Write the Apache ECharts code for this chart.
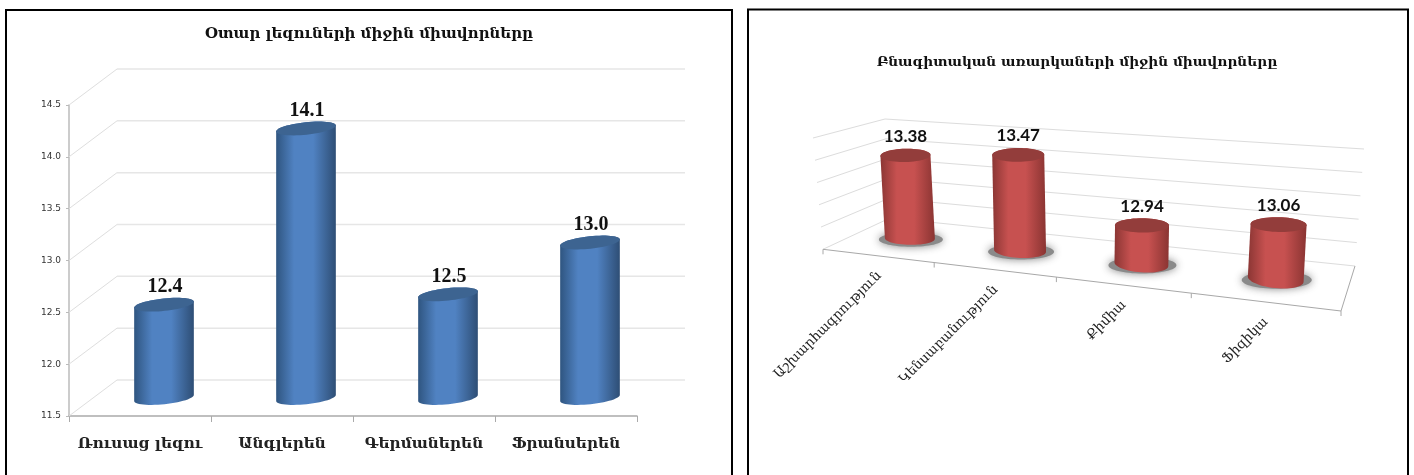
<!DOCTYPE html>
<html><head><meta charset="utf-8">
<style>html,body{margin:0;padding:0;background:#fff}#c{width:1414px;height:475px}</style>
<script src="https://cdn.jsdelivr.net/npm/echarts@6/dist/echarts.min.js"></script>
</head><body><div id="c"></div>
<script>
const titleLangs = 'Օտար լեզուների միջին միավորները';
const titleSci = 'Բնագիտական առարկաների միջին միավորները';
const langCats = ['Ռուսաց լեզու','Անգլերեն','Գերմաներեն','Ֆրանսերեն'];
const langVals = [12.4,14.1,12.5,13.0];
const langTicks = [11.5,12,12.5,13,13.5,14,14.5];
const sciCats = ['Աշխարհագրություն','Կենսաբանություն','Քիմիա','Ֆիզիկա'];
const sciVals = [13.38,13.47,12.94,13.06];
const sciTicks = [12.6,12.8,13,13.2,13.4,13.6];

const serif = '"DejaVu Serif","Liberation Serif",serif';
const G = echarts.graphic;
const hGrad = (e,m,e2)=>new G.LinearGradient(0,0,1,0,[{offset:0,color:e},{offset:.3,color:m},{offset:.62,color:m},{offset:1,color:e2}]);

// tilted ellipse outline; from/to in radians
function arc(cx,cy,rx,ry,tilt,a0,a1,n){
  const pts=[],c=Math.cos(tilt),s=Math.sin(tilt);
  for(let i=0;i<=n;i++){const t=a0+(a1-a0)*i/n,x=rx*Math.cos(t),y=ry*Math.sin(t);
    pts.push([cx+x*c-y*s,cy+x*s+y*c]);}
  return pts;
}
function cylinder(top,bot,rx,ryT,ryB,tT,tB,body,lid){
  const side=arc(bot[0],bot[1],rx,ryB,tB,Math.PI,0,28).concat(arc(top[0],top[1],rx,ryT,tT,0,-Math.PI,28));
  return [
    {type:'polygon',shape:{points:side},style:{fill:body}},
    {type:'polygon',shape:{points:arc(top[0],top[1],rx,ryT,tT,0,Math.PI*2,56)},style:{fill:lid}}
  ];
}
const line=(a,b,color,w)=>({type:'line',shape:{x1:a[0],y1:a[1],x2:b[0],y2:b[1]},style:{stroke:color,lineWidth:w,fill:null}});

/* ---------- left chart: oblique depth ---------- */
const DX=48,DY=-36;
function langWall(params,api){
  const cs=params.coordSys,p=api.coord([0,api.value(1)]);
  const x0=cs.x,y=p[1],x1=x0+DX,y1=y+DY,x2=cs.x+cs.width+DX;
  return {type:'group',children:[line([x0,y],[x1,y1],'#dedede',1),line([x1,y1],[x2,y1],'#e6e6e6',1.5)]};
}
function langBar(params,api){
  const i=api.value(0),v=api.value(1);
  const t=api.coord([i,v]),b=api.coord([i,langTicks[0]]);
  const top=[t[0]+DX/2,t[1]+DY/2],bot=[b[0]+DX/2,b[1]+DY/2];
  const kids=cylinder(top,bot,30,6.2,6.2,-0.105,-0.105,hGrad('#2f5580','#5082c2','#2e4e75'),'#3d6491');
  kids.push({type:'text',x:top[0]+1,y:top[1]-18,style:{text:v.toFixed(1),fill:'#111',align:'center',verticalAlign:'middle',
    fontFamily:'"Liberation Serif",serif',fontWeight:'bold',fontSize:20}});
  return {type:'group',children:kids};
}

/* ---------- right chart: perspective box ---------- */
const BOX={fl0:[823,249.3],fl1:[813,138],fr0:[1341,311],fr1:[1349,186],bl0:[890,218],bl1:[885,119],br0:[1355,266],br1:[1364,149]};
const warp=u=>0.82*u/(1-0.18*u);
const mix=(a,b,t)=>[a[0]+(b[0]-a[0])*t,a[1]+(b[1]-a[1])*t];
function P(u,v,d){
  const w=warp(u);
  const f=mix(mix(BOX.fl0,BOX.fr0,w),mix(BOX.fl1,BOX.fr1,w),v);
  const k=mix(mix(BOX.bl0,BOX.br0,w),mix(BOX.bl1,BOX.br1,w),v);
  return mix(f,k,d);
}
const norm=(cs,c)=>[(c[0]-cs.x)/cs.width,(cs.y+cs.height-c[1])/cs.height];
function sciWall(params,api){
  const cs=params.coordSys,v=norm(cs,api.coord([0,api.value(1)]))[1];
  return {type:'group',children:[line(P(0,v,0),P(0,v,1),'#dcdcdc',1),line(P(0,v,1),P(1,v,1),'#dcdcdc',1)]};
}
function sciFloor(params,api){
  const kids=[line(P(0,0,0),P(1,0,0),'#a8a8a8',1),line(P(1,0,0),P(1,0,1),'#a8a8a8',1)];
  const n=sciCats.length;
  for(let i=0;i<=n;i++){const p=P(i/n,0,0);kids.push(line(p,[p[0],p[1]+5],'#a8a8a8',1));}
  return {type:'group',children:kids};
}
function sciBar(params,api){
  const cs=params.coordSys,i=api.value(0),val=api.value(1);
  const [u,v]=norm(cs,api.coord([i,val]));
  const D=0.53,bot=P(u,0,D),top=P(u,v,D);
  const rx=24.5+4*u;
  const shadow={type:'ellipse',shape:{cx:bot[0]+1,cy:bot[1]+1,rx:rx+7,ry:7+2*u},
    style:{fill:'#8a8a8a',shadowBlur:8,shadowColor:'rgba(120,120,120,0.9)'}};
  const kids=[shadow].concat(cylinder(top,bot,rx,6.5+u,6+3.5*u,-0.03+0.06*u,0.12*u,hGrad('#8b3634','#c75150','#8a3432'),'#933d3b'));
  kids.push({type:'text',x:top[0],y:top[1]-19,style:{text:val.toFixed(2),fill:'#111',align:'center',verticalAlign:'middle',
    fontFamily:'Lato,sans-serif',fontWeight:'bold',fontSize:17}});
  return {type:'group',children:kids};
}
function sciLabel(params,api){
  const cs=params.coordSys,i=api.value(0),u=norm(cs,api.coord([i,sciTicks[0]]))[0];
  const p=P(u,0,0);
  return {type:'text',x:p[0]+2,y:p[1]+18,rotation:Math.PI/4,style:{text:sciCats[i],fill:'#222',align:'right',verticalAlign:'middle',
    fontFamily:serif,fontSize:13.5}};
}

const chart=echarts.init(document.getElementById('c'));
chart.setOption({
  animation:false,
  backgroundColor:'#fff',
  title:[
    {text:titleLangs,left:364,top:29,textAlign:'center',textVerticalAlign:'middle',textStyle:{fontFamily:serif,fontSize:15,fontWeight:'bold',color:'#111'}},
    {text:titleSci,left:1072,top:57,textAlign:'center',textVerticalAlign:'middle',textStyle:{fontFamily:serif,fontSize:13.75,fontWeight:'bold',color:'#111'}}
  ],
  graphic:[
    {type:'rect',shape:{x:6,y:10,width:726,height:490},style:{fill:null,stroke:'#000',lineWidth:2}},
    {type:'rect',shape:{x:748,y:9.5,width:660,height:490},style:{fill:null,stroke:'#000',lineWidth:2}}
  ],
  grid:[
    {left:69,top:105,width:568,height:311},
    {left:823,top:138,width:518,height:111}
  ],
  xAxis:[
    {type:'category',gridIndex:0,data:langCats,boundaryGap:true,
      axisLine:{lineStyle:{color:'#aaa',width:1.5}},axisTick:{show:true,alignWithLabel:false,length:6,lineStyle:{color:'#aaa'}},
      axisLabel:{interval:0,margin:21,fontFamily:serif,fontSize:15.3,fontWeight:'bold',color:'#222'}},
    {type:'category',gridIndex:1,data:sciCats,show:false}
  ],
  yAxis:[
    {type:'value',gridIndex:0,min:11.5,max:14.5,interval:0.5,splitLine:{show:false},
      axisLine:{show:true,lineStyle:{color:'#bbb',width:1.5}},axisTick:{show:true,length:3,lineStyle:{color:'#bbb'}},
      axisLabel:{margin:8,fontFamily:'"DejaVu Sans",sans-serif',fontSize:9,color:'#333',formatter:v=>v.toFixed(1)}},
    {type:'value',gridIndex:1,min:12.6,max:13.6,interval:0.2,show:false,splitLine:{show:false}}
  ],
  series:[
    {type:'custom',xAxisIndex:0,yAxisIndex:0,renderItem:langWall,data:langTicks.map(t=>[0,t]),z:1,silent:true},
    {type:'custom',xAxisIndex:0,yAxisIndex:0,renderItem:langBar,data:langVals.map((v,i)=>[i,v]),z:3},
    {type:'custom',xAxisIndex:1,yAxisIndex:1,renderItem:sciWall,data:sciTicks.map(t=>[0,t]),z:1,silent:true},
    {type:'custom',xAxisIndex:1,yAxisIndex:1,renderItem:sciFloor,data:[[0,sciTicks[0]]],z:2,silent:true},
    {type:'custom',xAxisIndex:1,yAxisIndex:1,renderItem:sciBar,data:sciVals.map((v,i)=>[i,v]),z:3},
    {type:'custom',xAxisIndex:1,yAxisIndex:1,renderItem:sciLabel,data:sciCats.map((c,i)=>[i,sciTicks[0]]),z:3,silent:true}
  ]
});
</script></body></html>
